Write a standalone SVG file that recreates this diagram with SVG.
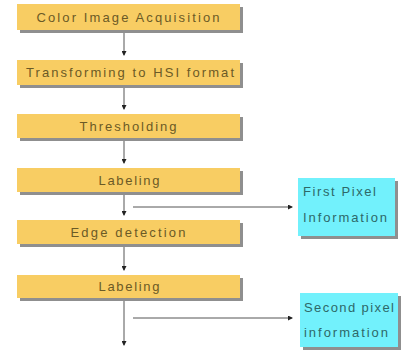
<svg xmlns="http://www.w3.org/2000/svg" width="408" height="350" viewBox="0 0 408 350">
<style>
.box{fill:#F8CD63;}
.shd{fill:#8f8f8f;}
.cbox{fill:#72F1FC;}
.t{font-family:"Liberation Sans",Arial,sans-serif;font-size:13px;fill:#6B5A26;text-anchor:middle;}
.ct{font-family:"Liberation Sans",Arial,sans-serif;font-size:13px;fill:#2E6868;}
.ln{stroke:#555;stroke-width:1;fill:none;}
</style>
<defs>
<marker id="ah" markerWidth="5" markerHeight="5" refX="4" refY="2.5" orient="auto" markerUnits="userSpaceOnUse">
<path d="M0,0 L5,2.5 L0,5 Z" fill="#222"/>
</marker>
</defs>
<rect width="408" height="350" fill="#fff"/>
<g id="connectors">
<line class="ln" x1="124" y1="31" x2="124" y2="55" marker-end="url(#ah)"/>
<line class="ln" x1="124" y1="86" x2="124" y2="109" marker-end="url(#ah)"/>
<line class="ln" x1="124" y1="140" x2="124" y2="163" marker-end="url(#ah)"/>
<line class="ln" x1="124" y1="194" x2="124" y2="215" marker-end="url(#ah)"/>
<line class="ln" x1="133" y1="207" x2="292" y2="207" marker-end="url(#ah)"/>
<line class="ln" x1="124" y1="246" x2="124" y2="270" marker-end="url(#ah)"/>
<line class="ln" x1="124" y1="300" x2="124" y2="345" marker-end="url(#ah)"/>
<line class="ln" x1="133" y1="318" x2="292" y2="318" marker-end="url(#ah)"/>
</g>
<g id="n1">
<rect class="shd" x="20" y="7" width="223" height="26"/>
<rect class="box" x="17" y="4" width="223" height="26"/>
<text class="t" x="128" y="22" textLength="183" lengthAdjust="spacing">Color Image Acquisition</text>
</g>
<g id="n2">
<rect class="shd" x="20" y="63" width="223" height="25"/>
<rect class="box" x="17" y="60" width="223" height="25"/>
<text class="t" x="130" y="77" textLength="208" lengthAdjust="spacing">Transforming to HSI format</text>
</g>
<g id="n3">
<rect class="shd" x="20" y="117" width="223" height="24"/>
<rect class="box" x="17" y="114" width="223" height="24"/>
<text class="t" x="128" y="131" textLength="97" lengthAdjust="spacing">Thresholding</text>
</g>
<g id="n4">
<rect class="shd" x="20" y="171" width="223" height="24"/>
<rect class="box" x="17" y="168" width="223" height="24"/>
<text class="t" x="129" y="185" textLength="61" lengthAdjust="spacing">Labeling</text>
</g>
<g id="n5">
<rect class="shd" x="20" y="223" width="223" height="24"/>
<rect class="box" x="17" y="220" width="223" height="24"/>
<text class="t" x="128" y="237" textLength="115" lengthAdjust="spacing">Edge detection</text>
</g>
<g id="n6">
<rect class="shd" x="20" y="278" width="223" height="23"/>
<rect class="box" x="17" y="275" width="223" height="23"/>
<text class="t" x="129" y="291" textLength="61" lengthAdjust="spacing">Labeling</text>
</g>
<g id="c1">
<rect class="shd" x="301" y="181" width="97" height="58"/>
<rect class="cbox" x="298" y="178" width="97" height="58"/>
<text class="ct" x="303" y="196" textLength="73" lengthAdjust="spacing">First Pixel</text>
<text class="ct" x="303" y="222" textLength="84" lengthAdjust="spacing">Information</text>
</g>
<g id="c2">
<rect class="shd" x="303" y="296" width="98" height="54"/>
<rect class="cbox" x="300" y="293" width="98" height="54"/>
<text class="ct" x="304" y="312" textLength="90" lengthAdjust="spacing">Second pixel</text>
<text class="ct" x="304" y="337" textLength="84" lengthAdjust="spacing">information</text>
</g>
</svg>
